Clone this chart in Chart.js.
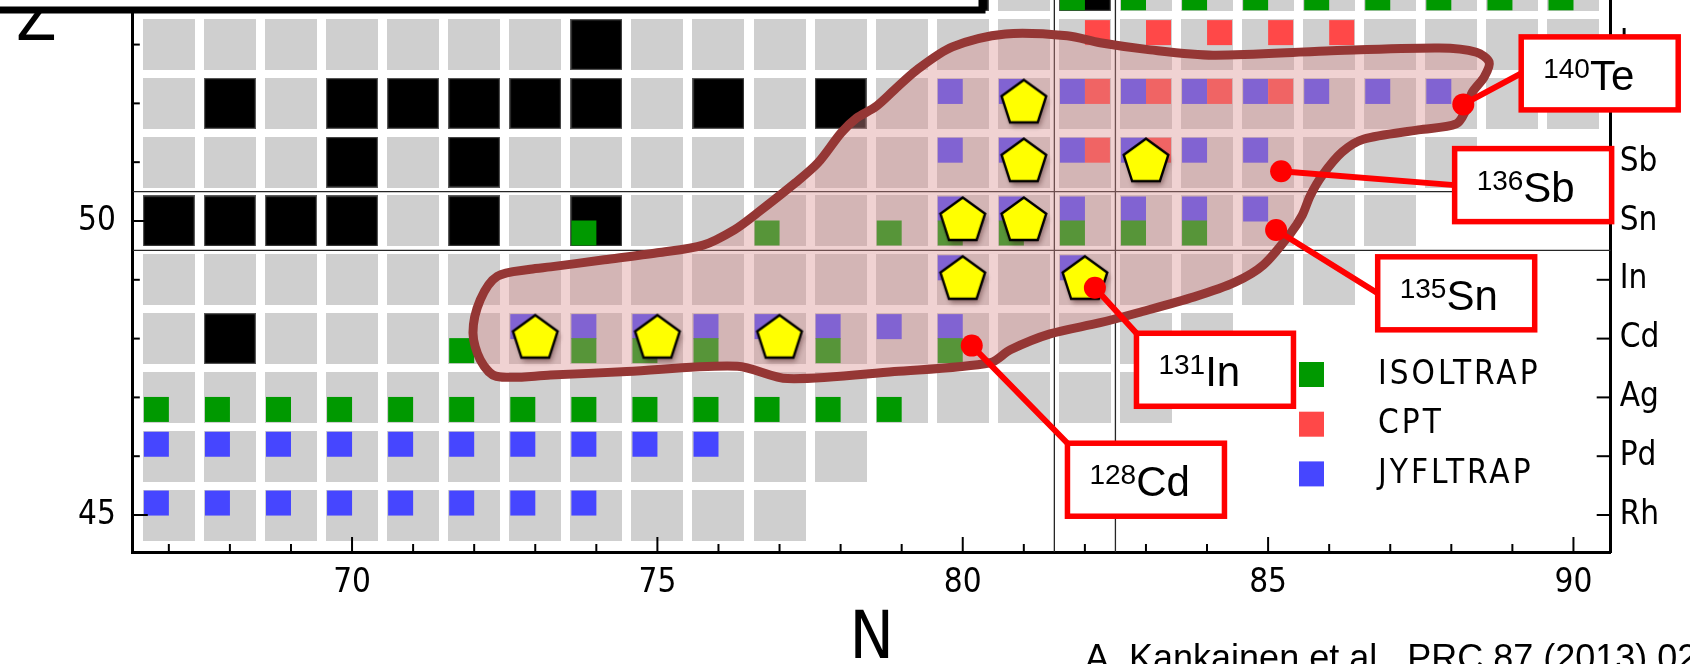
<!DOCTYPE html>
<html>
<head>
<meta charset="utf-8">
<title>Mass measurements around 132Sn</title>
<script src="https://cdn.jsdelivr.net/npm/chart.js@4.4.1/dist/chart.umd.min.js"></script>
<style>
  html, body { margin: 0; padding: 0; background: #fff; overflow: hidden; }
  #wrap { width: 1690px; height: 664px; }
</style>
</head>
<body>
<div id="wrap"><canvas id="nuclideChart" width="1690" height="664"></canvas></div>
<script>
// rows of the chart (proton number) and the span of known nuclides (neutron number) in each row
const rowZ = [45, 46, 47, 48, 49, 50, 51, 52, 53, 54];
const rowFirstN = [67, 67, 67, 67, 67, 67, 67, 67, 67, 67];
const rowLastN = [77, 78, 83, 84, 86, 87, 88, 90, 90, 90];
const elementSymbols = ['Rh', 'Pd', 'Ag', 'Cd', 'In', 'Sn', 'Sb', 'Te', 'I', 'Xe'];

// stable nuclides (black cells)
const stableN = [68, 67, 68, 69, 70, 72, 74, 70, 72, 68, 70, 71, 72, 73, 74, 76, 78, 74, 70, 72, 74, 75, 76, 77, 78, 80, 82];
const stableZ = [48, 50, 50, 50, 50, 50, 50, 51, 51, 52, 52, 52, 52, 52, 52, 52, 52, 53, 54, 54, 54, 54, 54, 54, 54, 54, 54];

// Penning-trap measurements
const isoltrapN = [67, 68, 69, 70, 71, 72, 73, 74, 75, 76, 77, 78, 79, 72, 74, 75, 76, 78, 80, 74, 77, 79, 80, 81, 82, 83, 84, 82, 83, 84, 85, 86, 87, 88, 89, 90];
const isoltrapZ = [47, 47, 47, 47, 47, 47, 47, 47, 47, 47, 47, 47, 47, 48, 48, 48, 48, 48, 48, 50, 50, 50, 50, 50, 50, 50, 50, 54, 54, 54, 54, 54, 54, 54, 54, 54];
const cptN = [82, 83, 82, 83, 84, 85, 82, 83, 84, 85, 86];
const cptZ = [51, 51, 52, 52, 52, 52, 53, 53, 53, 53, 53];
const jyflN = [67, 68, 69, 70, 71, 72, 73, 74, 67, 68, 69, 70, 71, 72, 73, 74, 75, 76, 73, 74, 75, 76, 77, 78, 79, 80, 80, 82, 80, 81, 82, 83, 84, 85, 80, 81, 82, 83, 84, 85, 80, 81, 82, 83, 84, 85, 86, 87, 88];
const jyflZ = [45, 45, 45, 45, 45, 45, 45, 45, 46, 46, 46, 46, 46, 46, 46, 46, 46, 46, 48, 48, 48, 48, 48, 48, 48, 48, 49, 49, 50, 50, 50, 50, 50, 50, 51, 51, 51, 51, 51, 51, 52, 52, 52, 52, 52, 52, 52, 52, 52];

// pentagon markers
const pentagonN = [73, 75, 77, 80, 82, 80, 81, 81, 83, 81];
const pentagonZ = [48, 48, 48, 49, 49, 50, 50, 51, 51, 52];

// outline of the shaded region
const regionN = [74.50, 73.25, 72.36, 72.10, 71.98, 72.10, 72.38, 72.92, 73.25, 74.13, 75.00, 75.75, 76.26, 76.64, 77.26, 77.63, 78.01, 78.26, 78.57, 78.88, 79.25, 79.83, 80.70, 81.71, 82.25, 83.07, 84.10, 85.95, 87.80, 88.41, 88.62, 88.54, 88.34, 88.24, 88.08, 87.46, 86.56, 86.21, 85.89, 85.69, 85.56, 85.36, 84.92, 84.46, 83.79, 82.87, 82.25, 81.43, 80.78, 80.45, 78.88, 77.13, 76.31, 74.50];
const regionZ = [47.44, 47.38, 47.36, 47.64, 48.10, 48.66, 49.06, 49.18, 49.22, 49.34, 49.46, 49.59, 49.85, 50.14, 50.65, 50.99, 51.50, 51.75, 51.94, 52.23, 52.57, 52.96, 53.18, 53.15, 53.03, 52.91, 52.82, 52.89, 52.94, 52.87, 52.70, 52.45, 52.18, 51.89, 51.65, 51.55, 51.39, 51.17, 50.78, 50.43, 50.10, 49.78, 49.25, 48.96, 48.71, 48.44, 48.27, 48.08, 47.81, 47.59, 47.44, 47.32, 47.53, 47.44];

// magic numbers (shell closures drawn as lines between cells)
const magicN = [82];
const magicZ = [50];

// axis ticks
const xTicks = [67, 68, 69, 70, 71, 72, 73, 74, 75, 76, 77, 78, 79, 80, 81, 82, 83, 84, 85, 86, 87, 88, 89, 90];
const xTickLabels = [70, 75, 80, 85, 90];
const yTicks = [45, 46, 47, 48, 49, 50, 51, 52, 53];
const yTickLabels = [45, 50];

// labelled nuclides
const calloutMass = [140, 136, 135, 131, 128];
const calloutSymbol = ['Te', 'Sb', 'Sn', 'In', 'Cd'];
const calloutN = [88, 85, 85, 82, 80];
const calloutZ = [52, 51, 50, 49, 48];

// ---- styling ----
const FONT = "'DejaVu Sans Condensed', 'Liberation Sans Narrow', 'DejaVu Sans', sans-serif";
const LABEL_FONT = "'Liberation Sans', Arial, sans-serif";
const CELL_W = 52, CELL_H = 51;
const GREY = '#cfcfcf';
const GREEN = '#009900', RED = '#ff4848', BLUE = '#4646ff';
const CALLOUT_RED = '#ff0000';

// where each red label box sits (centre, chart units) and where its dot / leader go
const calloutLayout = [
  { boxN: 90.43, boxZ: 52.51, dot: [12, 1], anchor: 'left' },
  { boxN: 89.34, boxZ: 50.61, dot: [13, 9], anchor: 'left' },
  { boxN: 88.08, boxZ: 48.77, dot: [8, 9], anchor: 'left' },
  { boxN: 84.13, boxZ: 47.47, dot: [10, 8], anchor: 'corner' },
  { boxN: 83.00, boxZ: 45.60, dot: [9, 7], anchor: 'corner' }
];

function makeCanvas(w, h) {
  const c = document.createElement('canvas');
  c.width = w;
  c.height = h;
  return c;
}

function cellImage(fill, edge) {
  const c = makeCanvas(CELL_W, CELL_H);
  const g = c.getContext('2d');
  g.fillStyle = fill;
  g.fillRect(0, 0, CELL_W, CELL_H);
  if (edge) {
    g.strokeStyle = edge;
    g.lineWidth = 1.2;
    g.strokeRect(0.6, 0.6, CELL_W - 1.2, CELL_H - 1.2);
  }
  return c;
}

// small square in one quarter of a cell: col 0 = left, 1 = right; row 0 = top, 1 = bottom
function quarterImage(color, col, row) {
  const c = makeCanvas(CELL_W, CELL_H);
  const g = c.getContext('2d');
  g.fillStyle = color;
  g.fillRect(col ? 26 : 1, row ? 25 : 1, 25, 25);
  return c;
}

function pentagonImage() {
  const c = makeCanvas(64, 64);
  const g = c.getContext('2d');
  const r = 23.5;
  g.beginPath();
  for (let k = 0; k < 5; k++) {
    const a = -Math.PI / 2 + k * 2 * Math.PI / 5;
    const px = 32 + r * Math.cos(a), py = 32 + r * Math.sin(a);
    if (k === 0) g.moveTo(px, py); else g.lineTo(px, py);
  }
  g.closePath();
  g.save();
  g.shadowColor = 'rgba(60, 20, 20, 0.45)';
  g.shadowBlur = 5;
  g.shadowOffsetX = 2;
  g.shadowOffsetY = 4;
  g.fillStyle = '#ffff00';
  g.fill();
  g.restore();
  g.lineWidth = 2.4;
  g.lineJoin = 'miter';
  g.strokeStyle = '#000';
  g.stroke();
  return c;
}

function toPoints(ns, zs) {
  return ns.map((n, i) => ({ x: n, y: zs[i] }));
}

const knownN = [], knownZ = [];
rowZ.forEach((z, i) => {
  for (let n = rowFirstN[i]; n <= rowLastN[i]; n++) {
    knownN.push(n);
    knownZ.push(z);
  }
});

function symbolFor(z) {
  const i = rowZ.indexOf(z);
  return i >= 0 ? elementSymbols[i] : '';
}

// keep the plot area flush with the canvas top / fixed axis sizes
function fixVertical(width) {
  return s => {
    s.width = width;
    s.paddingTop = 0;
    s.paddingBottom = 0;
  };
}

const chartExtras = {
  id: 'chartExtras',
  beforeDraw(chart) {
    chart.ctx.letterSpacing = '0px';
  },
  beforeDatasetsDraw(chart) {
    const { ctx, chartArea: a, scales: { x, y } } = chart;
    ctx.save();
    ctx.strokeStyle = '#262626';
    ctx.lineWidth = 1.3;
    magicN.forEach(n => [n - 0.5, n + 0.5].forEach(v => {
      const px = x.getPixelForValue(v);
      ctx.beginPath(); ctx.moveTo(px, a.top); ctx.lineTo(px, a.bottom); ctx.stroke();
    }));
    magicZ.forEach(z => [z - 0.5, z + 0.5].forEach(v => {
      const py = y.getPixelForValue(v);
      ctx.beginPath(); ctx.moveTo(a.left, py); ctx.lineTo(a.right, py); ctx.stroke();
    }));
    ctx.restore();
  },
  afterDatasetsDraw(chart) {
    const { ctx, chartArea: a, scales: { x, y } } = chart;
    ctx.save();

    // inward tick marks
    ctx.strokeStyle = '#000';
    ctx.lineWidth = 2;
    xTicks.forEach(n => {
      const px = x.getPixelForValue(n);
      const len = xTickLabels.includes(n) ? 15 : 8;
      ctx.beginPath(); ctx.moveTo(px, a.bottom); ctx.lineTo(px, a.bottom - len); ctx.stroke();
    });
    yTicks.forEach(z => {
      const py = y.getPixelForValue(z);
      const len = yTickLabels.includes(z) ? 15 : 7;
      ctx.beginPath(); ctx.moveTo(a.left, py); ctx.lineTo(a.left + len, py); ctx.stroke();
      ctx.beginPath(); ctx.moveTo(a.right, py); ctx.lineTo(a.right - 14, py); ctx.stroke();
    });

    // legend of the measurement datasets
    const legendItems = chart.data.datasets.filter(d => d.legendColor);
    ctx.font = '33px ' + FONT;
    ctx.letterSpacing = '3px';
    ctx.textBaseline = 'middle';
    ctx.textAlign = 'left';
    legendItems.forEach((d, i) => {
      const top = 362 + i * 49.7;
      ctx.fillStyle = d.legendColor;
      ctx.fillRect(1299, top, 25, 25);
      ctx.fillStyle = '#000';
      ctx.fillText(d.label, 1378, top + 13);
    });
    ctx.letterSpacing = '0px';

    // red call-outs
    const BOX_W = 157, BOX_H = 73;
    calloutMass.forEach((mass, i) => {
      const L = calloutLayout[i];
      const dx = x.getPixelForValue(calloutN[i]) + L.dot[0];
      const dy = y.getPixelForValue(calloutZ[i]) + L.dot[1];
      const bx = x.getPixelForValue(L.boxN) - BOX_W / 2;
      const by = y.getPixelForValue(L.boxZ) - BOX_H / 2;
      const ay = L.anchor === 'left' ? by + BOX_H / 2 : by;

      ctx.strokeStyle = CALLOUT_RED;
      ctx.lineWidth = 6;
      ctx.lineCap = 'round';
      ctx.beginPath(); ctx.moveTo(dx, dy); ctx.lineTo(bx, ay); ctx.stroke();
      ctx.fillStyle = CALLOUT_RED;
      ctx.beginPath(); ctx.arc(dx, dy, 11, 0, Math.PI * 2); ctx.fill();

      ctx.fillStyle = '#fff';
      ctx.fillRect(bx, by, BOX_W, BOX_H);
      ctx.lineWidth = 5.5;
      ctx.lineJoin = 'miter';
      ctx.strokeRect(bx, by, BOX_W, BOX_H);

      ctx.fillStyle = '#000';
      ctx.textBaseline = 'alphabetic';
      ctx.font = '28px ' + LABEL_FONT;
      const massText = String(mass);
      ctx.fillText(massText, bx + 22, by + 41);
      const w = ctx.measureText(massText).width;
      ctx.font = '42px ' + LABEL_FONT;
      ctx.fillText(calloutSymbol[i], bx + 22 + w, by + 53);
    });
    ctx.restore();
  },
  afterDraw(chart) {
    const { ctx } = chart;
    ctx.save();
    // axis title Z, upright at the top left
    ctx.fillStyle = '#000';
    ctx.font = '66px ' + FONT;
    ctx.textBaseline = 'alphabetic';
    ctx.textAlign = 'left';
    ctx.fillText('Z', 16, 40);

    // reference line
    ctx.font = '36px ' + LABEL_FONT;
    ctx.fillText('A. Kankainen et al., PRC 87 (2013) 024307', 1085, 670);

    // white frame cut off at the top left
    ctx.fillStyle = '#fff';
    ctx.fillRect(-10, -10, 992, 20);
    ctx.strokeStyle = '#000';
    ctx.lineWidth = 7;
    ctx.strokeRect(-10, -10, 992, 20);
    ctx.restore();
  }
};

const cellDataset = (label, ns, zs, img, order) => ({
  label,
  data: toPoints(ns, zs),
  pointStyle: img,
  pointRadius: 26,
  showLine: false,
  order
});

const ctx = document.getElementById('nuclideChart').getContext('2d');
const myChart = new Chart(ctx, {
  type: 'scatter',
  data: {
    datasets: [
      Object.assign(cellDataset('pentagons', pentagonN, pentagonZ, pentagonImage(), 1), { pointRadius: 24 }),
      {
        label: 'region',
        data: toPoints(regionN, regionZ),
        showLine: true,
        fill: 'shape',
        tension: 0.3,
        pointRadius: 0,
        borderWidth: 9,
        borderColor: '#953735',
        backgroundColor: 'rgba(218, 143, 143, 0.40)',
        borderJoinStyle: 'round',
        order: 2
      },
      Object.assign(cellDataset('ISOLTRAP', isoltrapN, isoltrapZ, quarterImage(GREEN, 0, 1), 3), { legendColor: GREEN }),
      Object.assign(cellDataset('CPT', cptN, cptZ, quarterImage(RED, 1, 0), 3), { legendColor: RED }),
      Object.assign(cellDataset('JYFLTRAP', jyflN, jyflZ, quarterImage(BLUE, 0, 0), 3), { legendColor: BLUE }),
      cellDataset('stable', stableN, stableZ, cellImage('#000', '#5a5a5a'), 4),
      cellDataset('known', knownN, knownZ, cellImage(GREY), 5)
    ]
  },
  options: {
    responsive: false,
    devicePixelRatio: 1,
    animation: false,
    events: [],
    layout: { padding: 0, autoPadding: false },
    plugins: {
      legend: { display: false },
      tooltip: { enabled: false }
    },
    scales: {
      x: {
        type: 'linear',
        position: 'bottom',
        min: 66.41,
        max: 90.61,
        afterFit: s => { s.height = 112; s.paddingLeft = 0; s.paddingRight = 0; },
        grid: { display: false, drawTicks: false },
        border: { display: true, color: '#000', width: 3 },
        ticks: {
          stepSize: 1,
          autoSkip: false,
          includeBounds: false,
          maxRotation: 0,
          padding: 12,
          color: '#000',
          font: { family: FONT, size: 33 },
          callback: v => xTickLabels.includes(v) ? String(v) : ''
        },
        title: {
          display: true,
          text: 'N',
          color: '#000',
          padding: 0,
          font: { family: FONT, size: 66, lineHeight: 0.7 }
        }
      },
      y: {
        type: 'linear',
        position: 'left',
        min: 44.371,
        max: 53.758,
        afterFit: fixVertical(132.8),
        grid: { display: false, drawTicks: false },
        border: { display: true, color: '#000', width: 3 },
        ticks: {
          stepSize: 1,
          includeBounds: false,
          padding: 17,
          color: '#000',
          font: { family: FONT, size: 33 },
          callback: v => yTickLabels.includes(v) ? String(v) : ''
        }
      },
      y2: {
        type: 'linear',
        position: 'right',
        min: 44.371,
        max: 53.758,
        afterFit: fixVertical(79.3),
        grid: { display: false, drawTicks: false },
        border: { display: true, color: '#000', width: 3 },
        ticks: {
          stepSize: 1,
          includeBounds: false,
          padding: 9,
          color: '#000',
          font: { family: FONT, size: 33 },
          callback: v => symbolFor(v)
        }
      }
    }
  },
  plugins: [chartExtras]
});
</script>
</body>
</html>
